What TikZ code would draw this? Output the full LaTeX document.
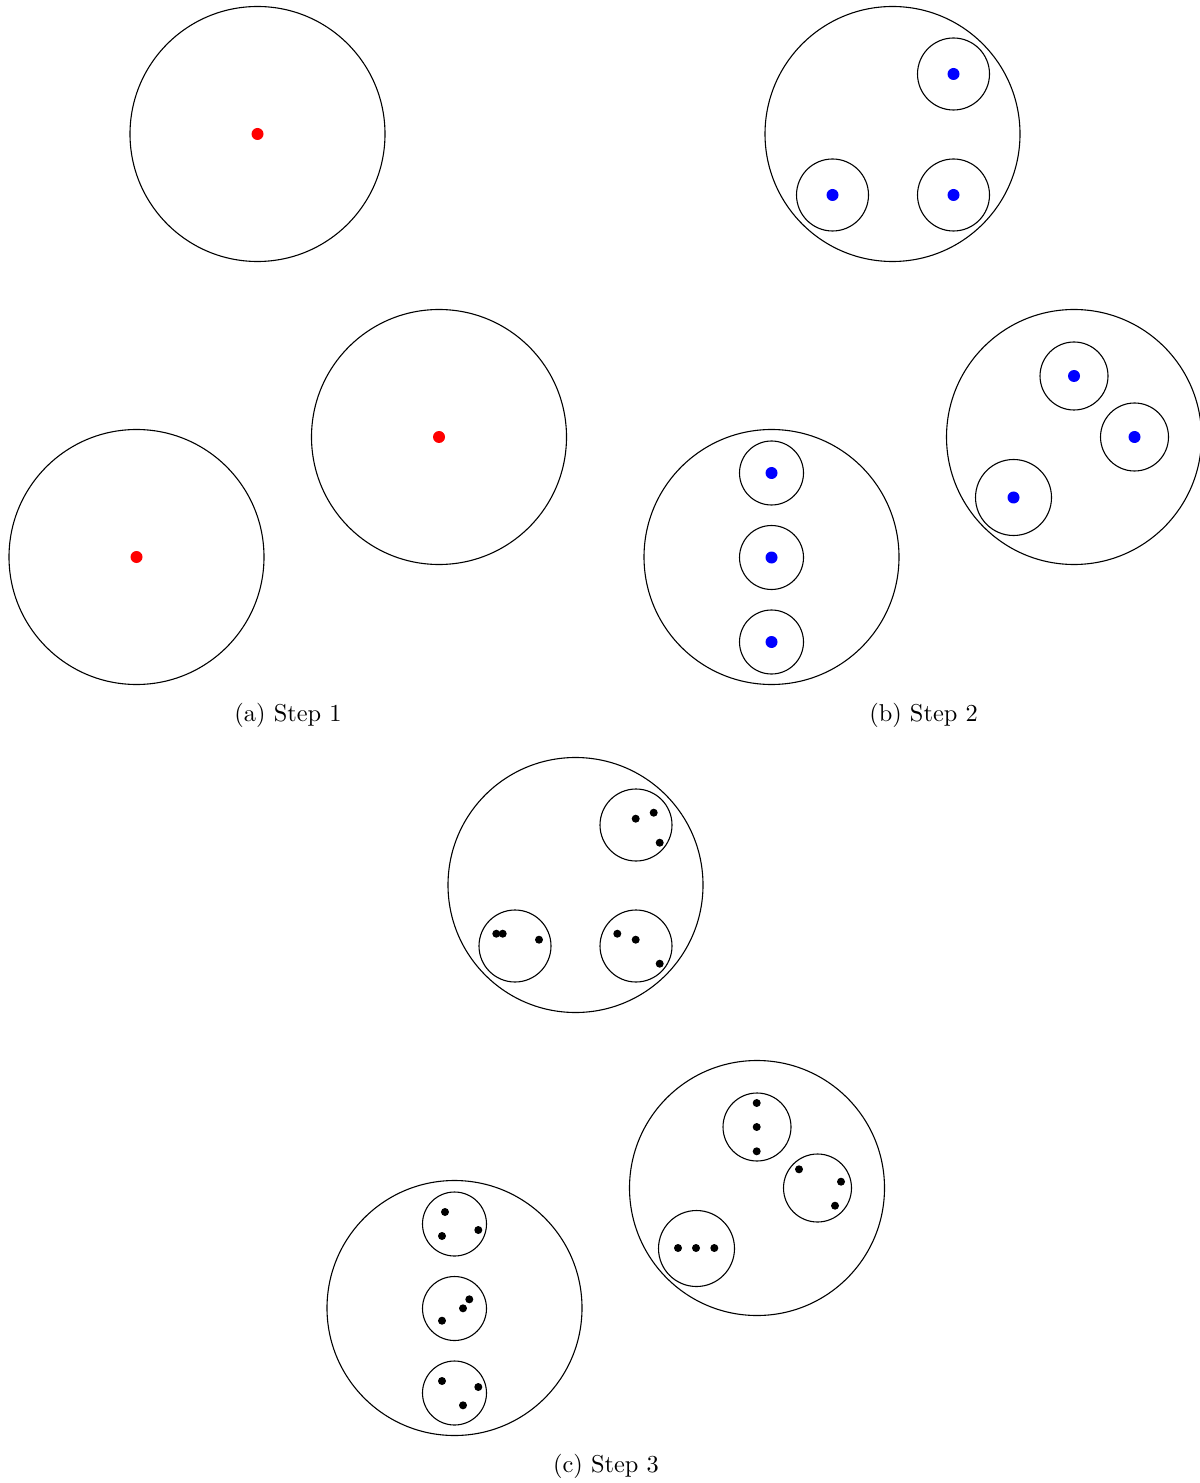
\documentclass[tikz,border=0pt]{standalone}
\begin{document}
\begin{tikzpicture}[x=0.41pt,y=-0.41pt,
  bigc/.style={draw=black,line width=0.45pt},
  smallc/.style={draw=black,line width=0.45pt},
  reddot/.style={fill=red},
  bluedot/.style={fill=blue},
  blackdot/.style={fill=black},
  captext/.style={inner sep=0pt,anchor=center,font=\normalsize}]
\useasboundingbox (0,0) rectangle (1199,1483);
% ---------- Step 1 ----------
\draw[bigc] (257.5,134) circle[radius=127.5];
\draw[bigc] (439,437) circle[radius=127.5];
\draw[bigc] (136.5,557) circle[radius=127.5];
\fill[reddot] (257.5,134) circle[radius=6];
\fill[reddot] (439,437) circle[radius=6];
\fill[reddot] (136.5,557) circle[radius=6];
\node[captext] (capa) at (288,715) {(a) Step 1};
% ---------- Step 2 ----------
\draw[bigc] (892.5,134) circle[radius=127.5];
\draw[bigc] (1074,437) circle[radius=127.5];
\draw[bigc] (771.5,557) circle[radius=127.5];
% A
\draw[smallc] (953.5,74) circle[radius=36];
\draw[smallc] (832.5,195) circle[radius=36];
\draw[smallc] (953.5,195) circle[radius=36];
\fill[bluedot] (953.5,74) circle[radius=6];
\fill[bluedot] (832.5,195) circle[radius=6];
\fill[bluedot] (953.5,195) circle[radius=6];
% B
\draw[smallc] (1074,376) circle[radius=34];
\draw[smallc] (1134.5,437) circle[radius=34];
\draw[smallc] (1013.5,497.5) circle[radius=38];
\fill[bluedot] (1074,376) circle[radius=6];
\fill[bluedot] (1134.5,437) circle[radius=6];
\fill[bluedot] (1013.5,497.5) circle[radius=6];
% C
\draw[smallc] (771.5,473) circle[radius=32];
\draw[smallc] (771.5,557.5) circle[radius=32];
\draw[smallc] (771.5,642) circle[radius=32];
\fill[bluedot] (771.5,473) circle[radius=6];
\fill[bluedot] (771.5,557.5) circle[radius=6];
\fill[bluedot] (771.5,642) circle[radius=6];
\node[captext] (capb) at (923.5,715) {(b) Step 2};
% ---------- Step 3 ----------
\draw[bigc] (575.5,885) circle[radius=127.5];
\draw[bigc] (757,1188) circle[radius=127.5];
\draw[bigc] (454.5,1308) circle[radius=127.5];
% A'
\draw[smallc] (636,825) circle[radius=36];
\draw[smallc] (515,946) circle[radius=36];
\draw[smallc] (636,946) circle[radius=36];
\foreach \p in {(635.7,818.7),(653.7,812.7),(659.7,842.7),
                (496.3,933.7),(502.7,933.7),(539,939.7),
                (617.3,933.7),(635.7,939.7),(659.7,963.7)}
  \fill[blackdot] \p circle[radius=4];
% B'
\draw[smallc] (757,1127) circle[radius=34];
\draw[smallc] (817.5,1188) circle[radius=34];
\draw[smallc] (696.5,1248.5) circle[radius=38];
\foreach \p in {(756.7,1103),(756.7,1127),(756.7,1151.3),
                (799,1169.3),(841,1181.7),(835,1205.7),
                (678,1248),(696,1248),(714.3,1248)}
  \fill[blackdot] \p circle[radius=4];
% C'
\draw[smallc] (454.5,1224) circle[radius=32];
\draw[smallc] (454.5,1308.5) circle[radius=32];
\draw[smallc] (454.5,1393) circle[radius=32];
\foreach \p in {(445,1212),(442,1236),(478.3,1230),
                (469.3,1299.3),(463,1308.3),(442,1320.7),
                (442,1381),(478.3,1387),(463,1405.3)}
  \fill[blackdot] \p circle[radius=4];
\node[captext] (capc) at (606,1466) {(c) Step 3};
\end{tikzpicture}
\end{document}
